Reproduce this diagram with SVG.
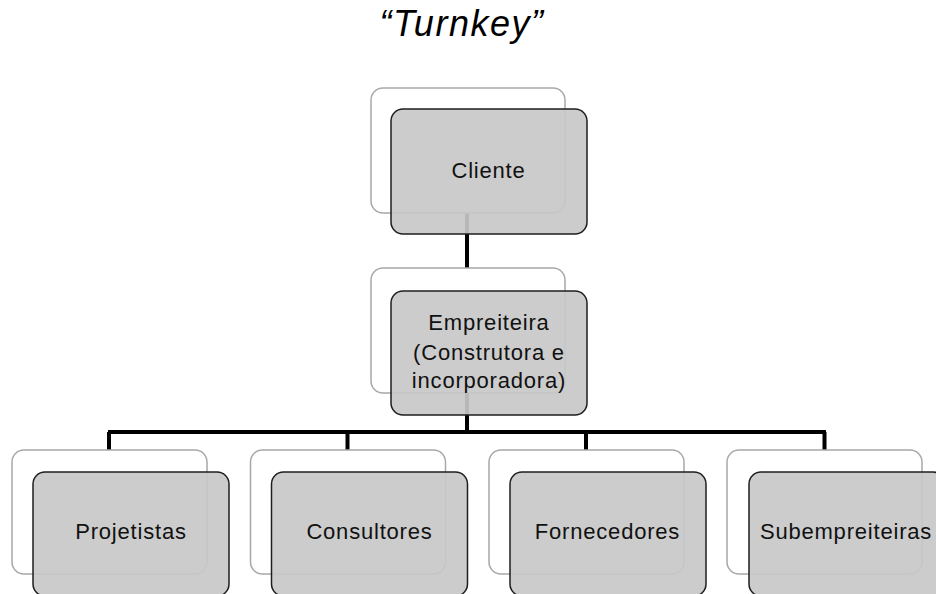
<svg xmlns="http://www.w3.org/2000/svg" width="936" height="594" viewBox="0 0 936 594">
<style>
.back{fill:#ffffff;stroke:#a8a8a8;stroke-width:1.5}
.front{fill:#c8c8c8;fill-opacity:0.92;stroke:#1e1e1e;stroke-width:1.5}
.lbl{font-family:"Liberation Sans",Arial,sans-serif;font-size:22px;letter-spacing:0.8px;fill:#111;text-anchor:middle}
.conn{stroke:#000;stroke-width:4;fill:none}
</style>
<rect width="936" height="594" fill="#ffffff"/>
<text x="462" y="36" font-family="Liberation Sans,Arial,sans-serif" font-style="italic" font-size="36" letter-spacing="1.5" text-anchor="middle" fill="#000">“Turnkey”</text>
<g id="connectors">
<path class="conn" d="M467 213V268M467 393V432M108 432H826M109 432V450M347.5 432V450M586 432V450M824.5 432V450"/>
</g>
<g id="cliente">
<rect class="back" x="371" y="88" width="194" height="125" rx="12"/>
<rect class="front" x="391" y="109" width="196" height="125" rx="12"/>
<text class="lbl" x="488.5" y="178">Cliente</text>
</g>
<g id="empreiteira">
<rect class="back" x="371" y="268" width="194" height="125" rx="12"/>
<rect class="front" x="391" y="291" width="196" height="124" rx="12"/>
<text class="lbl" x="489" y="330">Empreiteira</text>
<text class="lbl" x="489" y="360">(Construtora e</text>
<text class="lbl" x="489" y="388">incorporadora)</text>
</g>
<g id="projetistas">
<rect class="back" x="12" y="450" width="195" height="124" rx="12"/>
<rect class="front" x="33" y="472" width="196" height="124" rx="12"/>
<text class="lbl" x="131" y="539">Projetistas</text>
</g>
<g id="consultores">
<rect class="back" x="250.5" y="450" width="195" height="124" rx="12"/>
<rect class="front" x="271.5" y="472" width="196" height="124" rx="12"/>
<text class="lbl" x="369.5" y="539">Consultores</text>
</g>
<g id="fornecedores">
<rect class="back" x="489" y="450" width="195" height="124" rx="12"/>
<rect class="front" x="510" y="472" width="196" height="124" rx="12"/>
<text class="lbl" x="607.5" y="539">Fornecedores</text>
</g>
<g id="subempreiteiras">
<rect class="back" x="727" y="450" width="195" height="124" rx="12"/>
<rect class="front" x="749" y="472" width="196" height="124" rx="12"/>
<text class="lbl" x="846" y="539">Subempreiteiras</text>
</g>
</svg>
